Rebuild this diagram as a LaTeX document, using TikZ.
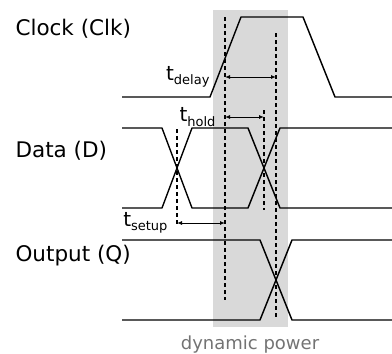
\documentclass[tikz,border=0pt]{standalone}
\usepackage{fontspec}
\setmainfont{DejaVu Sans}
\usepackage{xcolor}
\usetikzlibrary{arrows.meta}
\definecolor{powershade}{gray}{0.85}
\definecolor{powertext}{gray}{0.45}
\newcommand{\tlab}[1]{t\raisebox{-0.4ex}{\fontsize{13}{15}\selectfont #1}}

\begin{document}
\begin{tikzpicture}[x=1pt,y=-1pt,
  sig/.style={line width=1.4pt,line join=round},
  guide/.style={line width=1.2pt,dash pattern=on 4pt off 3pt},
  span/.style={line width=0.9pt,{Latex[length=5pt,width=4pt]}-{Latex[length=5pt,width=4pt]}}]
\useasboundingbox (0,0) rectangle (392,354);
\fill[powershade] (213,10) rectangle (288,327);
\draw (250,345) node[text=powertext,font=\fontsize{18}{20}\selectfont](dyn){dynamic power};
%
\draw (12,35) node[anchor=base west,font=\fontsize{21.5}{24}\selectfont](clk){Clock (Clk)};
\draw[sig] (122,97) -- (210,97) -- (241,17) -- (303,17) -- (335,97) -- (392,97);
%
\draw (12,157) node[anchor=base west,font=\fontsize{21.5}{24}\selectfont](dat){Data (D)};
\draw[sig] (122,128) -- (162,128) -- (192,208) -- (248,208) -- (280,128) -- (392,128);
\draw[sig] (122,208) -- (162,208) -- (192,128) -- (248,128) -- (280,208) -- (392,208);
%
\draw (12,261) node[anchor=base west,font=\fontsize{21.5}{24}\selectfont](out){Output (Q)};
\draw[sig] (122,240) -- (260,240) -- (292,320) -- (392,320);
\draw[sig] (122,320) -- (260,320) -- (292,240) -- (392,240);
%
\coordinate (edge) at (225,17);
\coordinate (qmid) at (276,33);
\coordinate (dhold) at (264,110);
\coordinate (dset) at (177,129);
\draw[guide] (edge) -- (225,300);
\draw[guide] (qmid) -- (276,317);
\draw[guide] (dhold) -- (264,210);
\draw[guide] (dset) -- (177,226);
%
\draw[span] (edge |- 0,77) -- (qmid |- 0,77);
\draw (213,77) node[anchor=east,font=\fontsize{20}{22}\selectfont](tdel){\tlab{delay}};
\draw[span] (edge |- 0,117) -- (dhold |- 0,117);
\draw (219,117) node[anchor=east,font=\fontsize{20}{22}\selectfont](thld){\tlab{hold}};
\draw[span] (dset |- 0,223) -- (edge |- 0,223);
\draw (171,223) node[anchor=east,font=\fontsize{20}{22}\selectfont](tset){\tlab{setup}};
\end{tikzpicture}
\end{document}
